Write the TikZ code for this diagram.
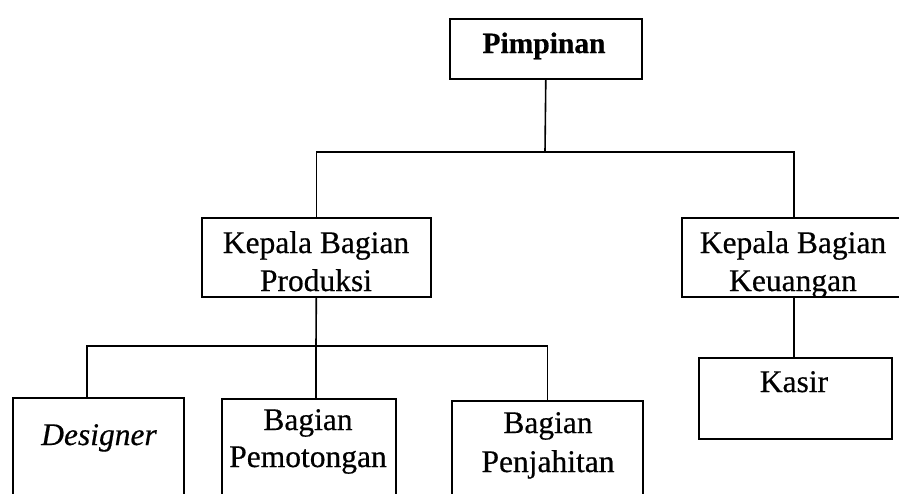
\documentclass[tikz,border=0pt]{standalone}
\usepackage{fontspec}
\setmainfont{Liberation Serif}[FakeBold=0.5]
\begin{document}
\begin{tikzpicture}[x=1pt,y=-1pt,
  box/.style={draw,line width=1.6pt,inner sep=0pt,anchor=north west},
  txt/.style={inner sep=0pt,anchor=base,font=\fontsize{31.5}{36}\selectfont},
  conn/.style={line width=1.6pt}]
\useasboundingbox (0,0) rectangle (899,493);
\begin{scope}
\clip (0,0) rectangle (899,493);
% boxes
\node[box,minimum width=192pt,minimum height=60pt] (pim) at (449,18) {};
\node[box,minimum width=229pt,minimum height=79pt] (prod) at (201,217) {};
\node[box,minimum width=224pt,minimum height=79pt] (keu) at (681,217) {};
\node[box,minimum width=193pt,minimum height=81pt] (kas) at (698,357) {};
\node[box,minimum width=171pt,minimum height=120pt] (des) at (12,397) {};
\node[box,minimum width=174pt,minimum height=120pt] (pem) at (221,398) {};
\node[box,minimum width=191pt,minimum height=120pt] (pen) at (451,400) {};
% texts
\node[txt,font=\fontsize{29.5}{34}\selectfont\bfseries] (tpim) at (544,53) {Pimpinan};
\node[txt] (tprod1) at (316,253) {Kepala Bagian};
\node[txt] (tprod2) at (316,291) {Produksi};
\node[txt] (tkeu1) at (793,253) {Kepala Bagian};
\node[txt] (tkeu2) at (793,291) {Keuangan};
\node[txt] (tkas) at (794,392) {Kasir};
\node[txt,font=\fontsize{31.5}{36}\selectfont\itshape] (tdes) at (99,445) {Designer};
\node[txt] (tpem1) at (308,430) {Bagian};
\node[txt] (tpem2) at (308,467) {Pemotongan};
\node[txt] (tpen1) at (548,433) {Bagian};
\node[txt] (tpen2) at (548,472) {Penjahitan};
% junctions
\coordinate (j1) at (545,152);
\coordinate (j2) at (316,346);
\coordinate (d1) at (87,346);
% connectors
\draw[conn] (pim.south) -- (j1);
\draw[conn] (prod.north) |- (j1) -| (keu.north);
\draw[conn] (keu.south) -- (keu.south |- kas.north);
\draw[conn] (prod.south) -- (j2);
\draw[conn] (d1 |- des.north) -- (d1) -| (pen.north);
\draw[conn] (j2) -- (j2 |- pem.north);
\end{scope}
\end{tikzpicture}
\end{document}
